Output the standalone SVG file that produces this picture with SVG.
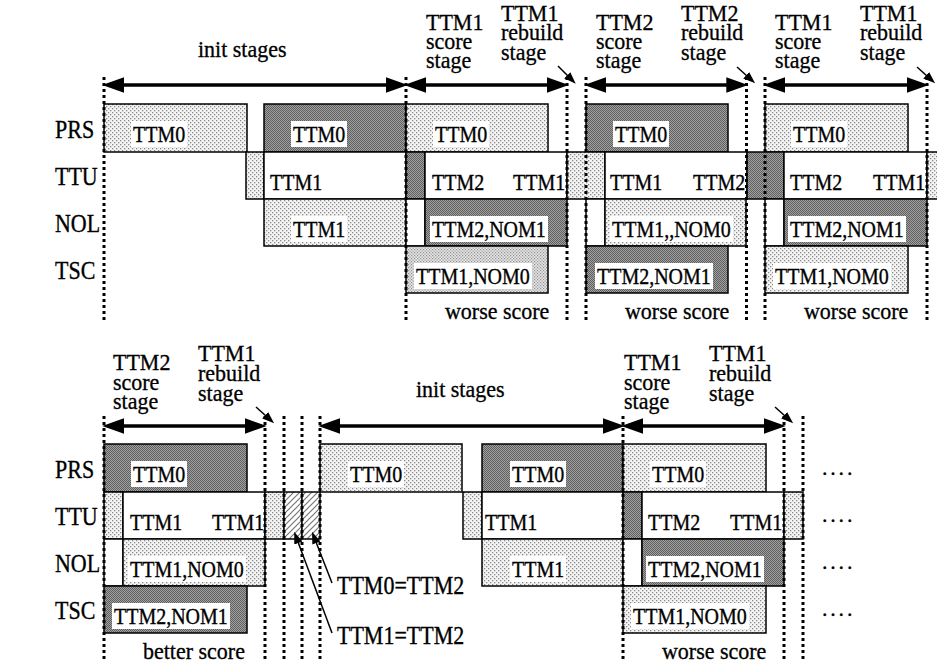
<svg xmlns="http://www.w3.org/2000/svg" width="937" height="669" viewBox="0 0 937 669">
<style>
text{font-family:'Liberation Serif','Times New Roman',serif;fill:#000;stroke:#000;stroke-width:0.3}
.hd{font-size:22px}
.rl{font-size:22px}
.lb{font-size:20px}
.box{stroke:#000;stroke-width:1.5}
.lt{fill:url(#pLight)}
.lt2{fill:url(#pLight2)}
.dk{fill:url(#pDark)}
.wh{fill:#fff}
.ht{fill:url(#pHatch)}
.wbg{fill:#fff}
.dot{stroke:#000;stroke-width:3;stroke-dasharray:3 3;fill:none}
.arr{stroke:#000;stroke-width:3.5;fill:none;marker-start:url(#ah);marker-end:url(#ah)}
.sarr{stroke:#000;stroke-width:1.5;fill:none;marker-end:url(#sah)}
</style>
<defs>
<pattern id="pLight" width="4" height="4" patternUnits="userSpaceOnUse"><rect width="4" height="4" fill="#f4f4f4"/><rect width="1.3" height="1.3" fill="#8a8a8a"/><rect x="2" y="2" width="1.3" height="1.3" fill="#8a8a8a"/></pattern>
<pattern id="pLight2" width="3" height="3" patternUnits="userSpaceOnUse"><rect width="3" height="3" fill="#e6e6e6"/><rect width="1.2" height="1.2" fill="#909090"/><rect x="1.5" y="1.5" width="1.2" height="1.2" fill="#909090"/></pattern>
<pattern id="pDark" width="2" height="2" patternUnits="userSpaceOnUse"><rect width="2" height="2" fill="#a0a0a0"/><rect width="1" height="1" fill="#606060"/><rect x="1" y="1" width="1" height="1" fill="#606060"/></pattern>
<pattern id="pHatch" width="6" height="6" patternUnits="userSpaceOnUse"><rect width="6" height="6" fill="#fff"/><path d="M-1,7 L7,-1 M-1,1 L1,-1 M5,7 L7,5" stroke="#777" stroke-width="1.2"/></pattern>
<marker id="ah" markerUnits="userSpaceOnUse" markerWidth="22" markerHeight="16" viewBox="0 0 20 14" refX="2" refY="7" orient="auto-start-reverse"><path d="M0,0 L20,7 L0,14 z" fill="#000"/></marker>
<marker id="sah" markerUnits="userSpaceOnUse" markerWidth="12" markerHeight="10" viewBox="0 0 11 8" refX="1" refY="4" orient="auto"><path d="M0,0 L11,4 L0,8 z" fill="#000"/></marker>
</defs>
<rect width="937" height="669" fill="#fff"/>

<g id="rowlabels">
<text class="rl" transform="translate(55,138) scale(1,1.15)">PRS</text>
<text class="rl" transform="translate(55,185) scale(1,1.15)">TTU</text>
<text class="rl" transform="translate(55,232) scale(1,1.15)">NOL</text>
<text class="rl" transform="translate(55,279) scale(1,1.15)">TSC</text>
<text class="rl" transform="translate(55,478) scale(1,1.15)">PRS</text>
<text class="rl" transform="translate(55,525) scale(1,1.15)">TTU</text>
<text class="rl" transform="translate(55,572) scale(1,1.15)">NOL</text>
<text class="rl" transform="translate(55,619) scale(1,1.15)">TSC</text>
</g>

<g id="top-prs1"><rect class="box lt" x="104" y="104" width="143" height="48"/><rect class="wbg" x="131" y="121" width="56" height="26"/><text class="lb" transform="translate(133,142) scale(1,1.2)">TTM0</text></g>
<g id="top-prs2"><rect class="box dk" x="264" y="104" width="142" height="48"/><rect class="wbg" x="291" y="121" width="56" height="26"/><text class="lb" transform="translate(293,142) scale(1,1.2)">TTM0</text></g>
<g id="top-prs3"><rect class="box lt" x="406" y="104" width="142" height="48"/><rect class="wbg" x="433" y="121" width="56" height="26"/><text class="lb" transform="translate(435,142) scale(1,1.2)">TTM0</text></g>
<g id="top-prs4"><rect class="box dk" x="586" y="104" width="142" height="48"/><rect class="wbg" x="613" y="121" width="56" height="26"/><text class="lb" transform="translate(615,142) scale(1,1.2)">TTM0</text></g>
<g id="top-prs5"><rect class="box lt" x="765" y="104" width="143" height="48"/><rect class="wbg" x="791" y="121" width="56" height="26"/><text class="lb" transform="translate(793,142) scale(1,1.2)">TTM0</text></g>

<g id="top-ttu1"><rect class="box lt" x="246" y="152" width="18" height="47"/></g>
<g id="top-ttu2"><rect class="box wh" x="264" y="152" width="142" height="47"/><text class="lb" transform="translate(270,190) scale(1,1.2)">TTM1</text></g>
<g id="top-ttu3"><rect class="box dk" x="406" y="152" width="19" height="47"/></g>
<g id="top-ttu4"><rect class="box wh" x="425" y="152" width="142" height="47"/><text class="lb" transform="translate(432,190) scale(1,1.2)">TTM2</text><text class="lb" transform="translate(513,190) scale(1,1.2)">TTM1</text></g>
<g id="top-ttu5"><rect class="box lt" x="567" y="152" width="38" height="47"/></g>
<g id="top-ttu6"><rect class="box wh" x="605" y="152" width="142" height="47"/><text class="lb" transform="translate(610,190) scale(1,1.2)">TTM1</text><text class="lb" transform="translate(693,190) scale(1,1.2)">TTM2</text></g>
<g id="top-ttu7"><rect class="box dk" x="747" y="152" width="37" height="47"/></g>
<g id="top-ttu8"><rect class="box wh" x="784" y="152" width="143" height="47"/><text class="lb" transform="translate(790,190) scale(1,1.2)">TTM2</text><text class="lb" transform="translate(873,190) scale(1,1.2)">TTM1</text></g>
<g id="top-ttu9"><rect class="box lt" x="927" y="152" width="14" height="47"/></g>

<g id="top-nol1"><rect class="box lt" x="264" y="199" width="142" height="47"/><rect class="wbg" x="291" y="216" width="56" height="26"/><text class="lb" transform="translate(293,237) scale(1,1.2)">TTM1</text></g>
<g id="top-nol2"><rect class="box wh" x="406" y="199" width="19" height="47"/></g>
<g id="top-nol3"><rect class="box dk" x="425" y="199" width="142" height="47"/><rect class="wbg" x="430" y="216" width="118" height="26"/><text class="lb" transform="translate(432,237) scale(1,1.2)">TTM2,NOM1</text></g>
<g id="top-nol4"><rect class="box wh" x="586" y="199" width="19" height="47"/></g>
<g id="top-nol5"><rect class="box lt" x="605" y="199" width="141" height="47"/><rect class="wbg" x="610" y="216" width="123" height="26"/><text class="lb" transform="translate(612,237) scale(1,1.2)">TTM1,,NOM0</text></g>
<g id="top-nol6"><rect class="box wh" x="765" y="199" width="19" height="47"/></g>
<g id="top-nol7"><rect class="box dk" x="784" y="199" width="143" height="47"/><rect class="wbg" x="788" y="216" width="118" height="26"/><text class="lb" transform="translate(790,237) scale(1,1.2)">TTM2,NOM1</text></g>

<g id="top-tsc1"><rect class="box lt2" x="406" y="246" width="142" height="47"/><rect class="wbg" x="414" y="263" width="118" height="26"/><text class="lb" transform="translate(416,284) scale(1,1.2)">TTM1,NOM0</text></g>
<g id="top-tsc2"><rect class="box dk" x="586" y="246" width="142" height="47"/><rect class="wbg" x="595" y="263" width="118" height="26"/><text class="lb" transform="translate(597,284) scale(1,1.2)">TTM2,NOM1</text></g>
<g id="top-tsc3"><rect class="box lt" x="765" y="246" width="143" height="47"/><rect class="wbg" x="773" y="263" width="118" height="26"/><text class="lb" transform="translate(775,284) scale(1,1.2)">TTM1,NOM0</text></g>

<g id="bot-prs1"><rect class="box dk" x="104" y="444" width="143" height="48"/><rect class="wbg" x="131" y="461" width="56" height="26"/><text class="lb" transform="translate(133,482) scale(1,1.2)">TTM0</text></g>
<g id="bot-prs2"><rect class="box lt" x="320" y="444" width="142" height="48"/><rect class="wbg" x="348" y="461" width="56" height="26"/><text class="lb" transform="translate(350,482) scale(1,1.2)">TTM0</text></g>
<g id="bot-prs3"><rect class="box dk" x="482" y="444" width="141" height="48"/><rect class="wbg" x="510" y="461" width="56" height="26"/><text class="lb" transform="translate(512,482) scale(1,1.2)">TTM0</text></g>
<g id="bot-prs4"><rect class="box lt" x="623" y="444" width="143" height="48"/><rect class="wbg" x="650" y="461" width="56" height="26"/><text class="lb" transform="translate(652,482) scale(1,1.2)">TTM0</text></g>

<g id="bot-ttu1"><rect class="box lt" x="104" y="492" width="19" height="47"/></g>
<g id="bot-ttu2"><rect class="box wh" x="123" y="492" width="142" height="47"/><text class="lb" transform="translate(130,530) scale(1,1.2)">TTM1</text><text class="lb" transform="translate(212,530) scale(1,1.2)">TTM1</text></g>
<g id="bot-ttu3"><rect class="box lt" x="265" y="492" width="19" height="47"/></g>
<g id="bot-ttu4"><rect class="box ht" x="284" y="492" width="18" height="47"/></g>
<g id="bot-ttu5"><rect class="box ht" x="302" y="492" width="18" height="47"/></g>
<g id="bot-ttu6"><rect class="box lt" x="463" y="492" width="19" height="47"/></g>
<g id="bot-ttu7"><rect class="box wh" x="482" y="492" width="141" height="47"/><text class="lb" transform="translate(485,530) scale(1,1.2)">TTM1</text></g>
<g id="bot-ttu8"><rect class="box dk" x="623" y="492" width="19" height="47"/></g>
<g id="bot-ttu9"><rect class="box wh" x="642" y="492" width="142" height="47"/><text class="lb" transform="translate(648,530) scale(1,1.2)">TTM2</text><text class="lb" transform="translate(730,530) scale(1,1.2)">TTM1</text></g>
<g id="bot-ttu10"><rect class="box lt" x="784" y="492" width="19" height="47"/></g>

<g id="bot-nol1"><rect class="box wh" x="104" y="539" width="19" height="47"/></g>
<g id="bot-nol2"><rect class="box lt" x="123" y="539" width="142" height="47"/><rect class="wbg" x="128" y="556" width="118" height="26"/><text class="lb" transform="translate(130,577) scale(1,1.2)">TTM1,NOM0</text></g>
<g id="bot-nol3"><rect class="box lt" x="482" y="539" width="141" height="47"/><rect class="wbg" x="510" y="556" width="56" height="26"/><text class="lb" transform="translate(512,577) scale(1,1.2)">TTM1</text></g>
<g id="bot-nol4"><rect class="box wh" x="623" y="539" width="19" height="47"/></g>
<g id="bot-nol5"><rect class="box dk" x="642" y="539" width="142" height="47"/><rect class="wbg" x="646" y="556" width="118" height="26"/><text class="lb" transform="translate(648,577) scale(1,1.2)">TTM2,NOM1</text></g>

<g id="bot-tsc1"><rect class="box dk" x="104" y="586" width="143" height="47"/><rect class="wbg" x="112" y="603" width="118" height="26"/><text class="lb" transform="translate(114,624) scale(1,1.2)">TTM2,NOM1</text></g>
<g id="bot-tsc2"><rect class="box lt" x="623" y="586" width="143" height="47"/><rect class="wbg" x="631" y="603" width="118" height="26"/><text class="lb" transform="translate(633,624) scale(1,1.2)">TTM1,NOM0</text></g>

<g id="connectors">
<path class="dot" d="M104,77V322 M406,77V322 M567,77V322 M586,77V322 M746.5,77V322 M765,77V322 M927,77V322"/>
<path class="dot" d="M104,416V662 M265,416V662 M284,416V662 M302,416V662 M320,416V662 M623,416V662 M784,416V662 M803,416V662"/>
<line class="arr" x1="122" y1="85" x2="388" y2="85"/>
<line class="arr" x1="424" y1="85" x2="549" y2="85"/>
<line class="arr" x1="604" y1="85" x2="728.5" y2="85"/>
<line class="arr" x1="783" y1="85" x2="909" y2="85"/>
<line class="arr" x1="122" y1="426" x2="247" y2="426"/>
<line class="arr" x1="338" y1="426" x2="605" y2="426"/>
<line class="arr" x1="641" y1="426" x2="766" y2="426"/>
<line class="sarr" x1="558" y1="66" x2="568" y2="76"/>
<line class="sarr" x1="737" y1="67" x2="747" y2="76"/>
<line class="sarr" x1="917" y1="67" x2="927" y2="76"/>
<line class="sarr" x1="256" y1="407" x2="266" y2="416"/>
<line class="sarr" x1="775" y1="407" x2="785" y2="416"/>
<line class="sarr" x1="332" y1="633" x2="298" y2="542"/>
<line class="sarr" x1="332" y1="583" x2="316" y2="542"/>
</g>

<g id="headings">
<text class="hd" transform="translate(198,57) scale(1,1.08)">init stages</text>
<text class="hd" transform="translate(426,30) scale(1,1.08)">TTM1</text>
<text class="hd" transform="translate(426,49) scale(1,1.08)">score</text>
<text class="hd" transform="translate(426,68) scale(1,1.08)">stage</text>
<text class="hd" transform="translate(501,21) scale(1,1.08)">TTM1</text>
<text class="hd" transform="translate(501,40) scale(1,1.08)">rebuild</text>
<text class="hd" transform="translate(501,60) scale(1,1.08)">stage</text>
<text class="hd" transform="translate(596,30) scale(1,1.08)">TTM2</text>
<text class="hd" transform="translate(596,49) scale(1,1.08)">score</text>
<text class="hd" transform="translate(596,68) scale(1,1.08)">stage</text>
<text class="hd" transform="translate(681,21) scale(1,1.08)">TTM2</text>
<text class="hd" transform="translate(681,40) scale(1,1.08)">rebuild</text>
<text class="hd" transform="translate(681,60) scale(1,1.08)">stage</text>
<text class="hd" transform="translate(775,30) scale(1,1.08)">TTM1</text>
<text class="hd" transform="translate(775,49) scale(1,1.08)">score</text>
<text class="hd" transform="translate(775,68) scale(1,1.08)">stage</text>
<text class="hd" transform="translate(860,21) scale(1,1.08)">TTM1</text>
<text class="hd" transform="translate(860,40) scale(1,1.08)">rebuild</text>
<text class="hd" transform="translate(860,60) scale(1,1.08)">stage</text>
<text class="hd" transform="translate(445,319) scale(1,1.08)">worse score</text>
<text class="hd" transform="translate(625,319) scale(1,1.08)">worse score</text>
<text class="hd" transform="translate(804,319) scale(1,1.08)">worse score</text>

<text class="hd" transform="translate(113,370) scale(1,1.08)">TTM2</text>
<text class="hd" transform="translate(113,390) scale(1,1.08)">score</text>
<text class="hd" transform="translate(113,409) scale(1,1.08)">stage</text>
<text class="hd" transform="translate(198,361) scale(1,1.08)">TTM1</text>
<text class="hd" transform="translate(198,381) scale(1,1.08)">rebuild</text>
<text class="hd" transform="translate(198,401) scale(1,1.08)">stage</text>
<text class="hd" transform="translate(416,397) scale(1,1.08)">init stages</text>
<text class="hd" transform="translate(624,370) scale(1,1.08)">TTM1</text>
<text class="hd" transform="translate(624,390) scale(1,1.08)">score</text>
<text class="hd" transform="translate(624,409) scale(1,1.08)">stage</text>
<text class="hd" transform="translate(709,361) scale(1,1.08)">TTM1</text>
<text class="hd" transform="translate(709,381) scale(1,1.08)">rebuild</text>
<text class="hd" transform="translate(709,401) scale(1,1.08)">stage</text>
<text class="hd" transform="translate(143,659) scale(1,1.08)">better score</text>
<text class="hd" transform="translate(662,659) scale(1,1.08)">worse score</text>
<text class="hd" transform="translate(337,594) scale(1,1.12)">TTM0=TTM2</text>
<text class="hd" transform="translate(337,644) scale(1,1.12)">TTM1=TTM2</text>
<text class="hd" style="letter-spacing:2.8px" x="822" y="475">....</text>
<text class="hd" style="letter-spacing:2.8px" x="822" y="522">....</text>
<text class="hd" style="letter-spacing:2.8px" x="822" y="569">....</text>
<text class="hd" style="letter-spacing:2.8px" x="822" y="616">....</text>
</g>
</svg>
